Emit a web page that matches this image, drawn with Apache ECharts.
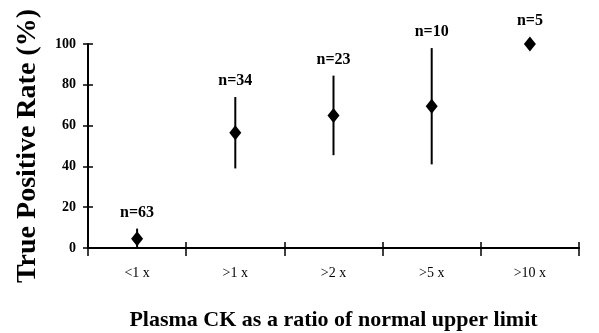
<!DOCTYPE html>
<html>
<head>
<meta charset="utf-8">
<script src="https://cdn.jsdelivr.net/npm/echarts@6/dist/echarts.min.js"></script>
<style>
  html, body { margin: 0; padding: 0; background: #fff; }
  #main { width: 599px; height: 333px; }
</style>
</head>
<body>
<div id="main"></div>
<script>
// data
const categories = ["<1 x", ">1 x", ">2 x", ">5 x", ">10 x"];
const rate = [4.5, 56.5, 65, 69.5, 100];
const lower = [0, 39, 45.5, 41, 100];
const upper = [9.5, 74, 84.5, 98, 100];
const counts = ["n=63", "n=34", "n=23", "n=10", "n=5"];
const yTicks = [0, 20, 40, 60, 80, 100];

const FONT = "Liberation Serif";
let myChart = echarts.init(document.getElementById("main"));

let errData = categories.map((c, i) => [i, lower[i], upper[i], rate[i], counts[i]]);

let option = {
  animation: false,
  grid: { left: 88, right: 20, top: 44, bottom: 85, outerBoundsMode: "none" },
  xAxis: [
    {
      type: "category",
      data: categories,
      boundaryGap: true,
      axisLine: { lineStyle: { color: "#000", width: 2 } },
      axisTick: { show: true, inside: false, length: 8, lineStyle: { color: "#000", width: 1.5 } },
      axisLabel: { color: "#000", fontFamily: FONT, fontSize: 14, margin: 18 },
      name: "Plasma CK as a ratio of normal upper limit",
      nameLocation: "middle",
      nameGap: 61,
      nameTextStyle: { color: "#000", fontFamily: FONT, fontSize: 22, fontWeight: "bold" },
    },
    {
      // second copy only for the inner half of the crossing ticks
      type: "category",
      data: categories,
      position: "bottom",
      boundaryGap: true,
      axisLine: { show: false },
      axisTick: { show: true, inside: true, length: 6, lineStyle: { color: "#000", width: 1.5 } },
      axisLabel: { show: false },
    },
  ],
  yAxis: [
    {
      type: "value",
      min: yTicks[0],
      max: yTicks[yTicks.length - 1],
      interval: 20,
      splitLine: { show: false },
      axisLine: { show: true, lineStyle: { color: "#000", width: 2 } },
      axisTick: { show: true, length: 5, lineStyle: { color: "#000", width: 1.5 } },
      axisLabel: { color: "#000", fontFamily: FONT, fontSize: 14, fontWeight: "bold", margin: 12 },
      name: "True Positive Rate (%)",
      nameLocation: "middle",
      nameGap: 46,
      nameTextStyle: { color: "#000", fontFamily: FONT, fontSize: 28, fontWeight: "bold" },
    },
    {
      type: "value",
      position: "left",
      min: yTicks[0],
      max: yTicks[yTicks.length - 1],
      interval: 20,
      splitLine: { show: false },
      axisLine: { show: false },
      axisTick: { show: true, inside: true, length: 5, lineStyle: { color: "#000", width: 1.5 } },
      axisLabel: { show: false },
    },
  ],
  series: [
    {
      type: "custom",
      xAxisIndex: 0,
      yAxisIndex: 0,
      data: errData,
      renderItem: function (params, api) {
        let x = api.coord([api.value(0), 0])[0];
        let lo = api.coord([api.value(0), api.value(1)])[1];
        let hi = api.coord([api.value(0), api.value(2)])[1];
        let mid = api.coord([api.value(0), api.value(3)])[1];
        let top = Math.min(hi, mid - 7.5);
        let kids = [];
        if (lo - hi > 1) {
          kids.push({
            type: "line",
            shape: { x1: x, y1: lo, x2: x, y2: hi },
            style: { stroke: "#000", lineWidth: 2 },
          });
        }
        kids.push({
          type: "text",
          style: {
            text: api.value(4),
            x: x,
            y: top - 16,
            align: "center",
            verticalAlign: "middle",
            fill: "#000",
            font: "bold 16px " + FONT,
          },
        });
        return { type: "group", children: kids };
      },
      z: 2,
    },
    {
      type: "scatter",
      xAxisIndex: 0,
      yAxisIndex: 0,
      data: rate,
      symbol: "diamond",
      symbolSize: [12, 15],
      itemStyle: { color: "#000", opacity: 1 },
      z: 3,
    },
  ],
};
myChart.setOption(option);
</script>
</body>
</html>
